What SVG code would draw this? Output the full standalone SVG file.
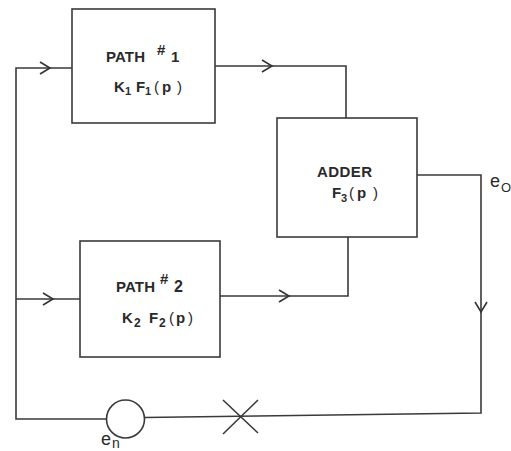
<svg xmlns="http://www.w3.org/2000/svg" width="511" height="451" viewBox="0 0 511 451">
<style>
  .box { fill: none; stroke: #3a3a3a; stroke-width: 1.6; }
  .wire { fill: none; stroke: #3a3a3a; stroke-width: 1.6; stroke-linejoin: miter; }
  .chev { fill: none; stroke: #333; stroke-width: 1.6; stroke-linejoin: miter; }
  text { font-family: "Liberation Sans", Arial, sans-serif; fill: #2a2a2a; font-weight: bold; }
  .lbl { font-size: 15px; }
  .sup { font-size: 15px; font-weight: bold; }
  .sub { font-size: 11px; }
  .sym { font-weight: normal; }
</style>
<defs>
  <path id="chev" class="chev" d="M-10,-6 L0,0 L-10,6"/>
</defs>
<rect width="511" height="451" fill="#ffffff"/>

<g id="connectors">
  <path class="wire" d="M72,68 H16 V419 H106"/>
  <path class="wire" d="M16,299 H80"/>
  <path class="wire" d="M215,66 H346 V118"/>
  <path class="wire" d="M220,296 H348 V237"/>
  <path class="wire" d="M417,175 H481 V413 L144.5,417.5"/>
  <use href="#chev" transform="translate(50,68)"/>
  <use href="#chev" transform="translate(53,299)"/>
  <use href="#chev" transform="translate(272,66)"/>
  <use href="#chev" transform="translate(289,296)"/>
  <use href="#chev" transform="translate(481,312) rotate(90)"/>
</g>

<g id="path1">
  <rect class="box" x="72" y="9" width="143" height="114"/>
  <text class="lbl" y="62"><tspan x="106" textLength="39">PATH</tspan><tspan x="157" y="55" class="sup">#</tspan><tspan x="171" y="62">1</tspan></text>
  <text class="lbl" y="92"><tspan x="114">K</tspan><tspan class="sub" x="125" y="95">1</tspan><tspan x="136" y="92">F</tspan><tspan class="sub" x="145" y="95">1</tspan><tspan class="sym" x="154" y="92">(</tspan><tspan x="162">p</tspan><tspan class="sym" x="177">)</tspan></text>
</g>

<g id="path2">
  <rect class="box" x="80" y="241" width="140" height="116"/>
  <text class="lbl" y="292"><tspan x="116" textLength="39">PATH</tspan><tspan x="160" y="284" class="sup">#</tspan><tspan x="174" y="292" style="font-size:16px">2</tspan></text>
  <text class="lbl" y="323"><tspan x="122">K</tspan><tspan class="sub" x="134" y="327" style="font-size:12px">2</tspan><tspan x="149" y="323">F</tspan><tspan class="sub" x="159" y="327" style="font-size:12px">2</tspan><tspan class="sym" x="169" y="323">(</tspan><tspan x="176">p</tspan><tspan class="sym" x="188">)</tspan></text>
</g>

<g id="adder">
  <rect class="box" x="277" y="118" width="140" height="119"/>
  <text class="lbl" x="317" y="177" textLength="55">ADDER</text>
  <text class="lbl" y="198"><tspan x="332">F</tspan><tspan class="sub" x="341" y="202">3</tspan><tspan class="sym" x="349" y="198">(</tspan><tspan x="357">p</tspan><tspan class="sym" x="373">)</tspan></text>
</g>

<g id="eo">
  <text x="490" y="187" style="font-size:18px; font-weight:normal">e<tspan x="501" y="192" style="font-size:13px">O</tspan></text>
</g>

<g id="noise-source">
  <circle class="box" cx="125.5" cy="419" r="19"/>
  <text x="101" y="445" style="font-size:18px; font-weight:normal">e<tspan x="112" y="448" style="font-size:14px">n</tspan></text>
</g>

<g id="break">
  <path class="wire" d="M223,400 L258,433 M223,434 L258,400"/>
</g>
</svg>
